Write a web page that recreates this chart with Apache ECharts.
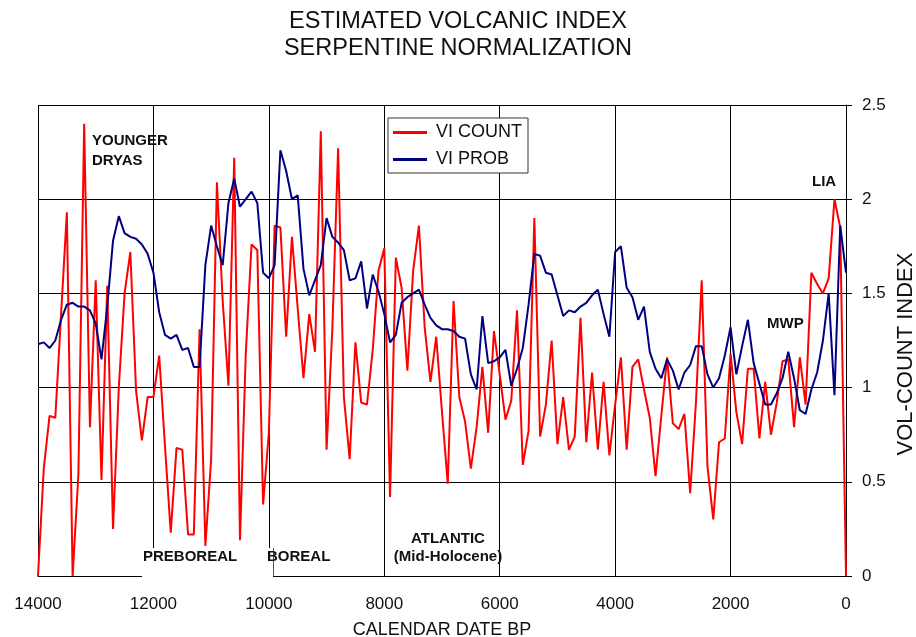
<!DOCTYPE html>
<html>
<head>
<meta charset="utf-8">
<script src="https://cdn.jsdelivr.net/npm/echarts@6/dist/echarts.min.js"></script>
<style>
html,body{margin:0;padding:0;background:#fff;}
#c{width:916px;height:637px;}
</style>
</head>
<body>
<div id="c"></div>
<script>
const years = [14000,13900,13800,13700,13600,13500,13400,13300,13200,13100,
13000,12900,12800,12700,12600,12500,12400,12300,12200,12100,
12000,11900,11800,11700,11600,11500,11400,11300,11200,11100,
11000,10900,10800,10700,10600,10500,10400,10300,10200,10100,
10000,9900,9800,9700,9600,9500,9400,9300,9200,9100,
9000,8900,8800,8700,8600,8500,8400,8300,8200,8100,
8000,7900,7800,7700,7600,7500,7400,7300,7200,7100,
7000,6900,6800,6700,6600,6500,6400,6300,6200,6100,
6000,5900,5800,5700,5600,5500,5400,5300,5200,5100,
5000,4900,4800,4700,4600,4500,4400,4300,4200,4100,
4000,3900,3800,3700,3600,3500,3400,3300,3200,3100,
3000,2900,2800,2700,2600,2500,2400,2300,2200,2100,
2000,1900,1800,1700,1600,1500,1400,1300,1200,1100,
1000,900,800,700,600,500,400,300,200,100,0];

const viCount = [0,0.57,0.85,0.84,1.39,1.93,0,0.54,2.40,0.79,
1.57,0.51,1.54,0.25,1.00,1.50,1.72,0.98,0.72,0.95,
0.95,1.17,0.69,0.23,0.68,0.67,0.22,0.22,1.31,0.16,
0.62,2.09,1.46,1.01,2.22,0.19,1.18,1.76,1.73,0.38,
0.76,1.86,1.85,1.27,1.80,1.42,1.05,1.39,1.19,2.36,
0.67,1.31,2.27,0.95,0.62,1.24,0.92,0.91,1.20,1.62,
1.74,0.42,1.69,1.53,1.09,1.62,1.86,1.32,1.03,1.27,
0.87,0.49,1.46,0.95,0.82,0.57,0.79,1.11,0.76,1.30,
1.07,0.83,0.93,1.41,0.59,0.77,1.90,0.74,0.91,1.25,
0.70,0.95,0.67,0.74,1.37,0.71,1.08,0.67,1.03,0.64,
0.91,1.16,0.67,1.11,1.15,0.99,0.84,0.53,0.85,1.16,
0.81,0.78,0.86,0.44,0.92,1.57,0.58,0.30,0.71,0.73,
1.18,0.87,0.70,1.10,1.10,0.73,1.03,0.75,0.92,1.14,
1.15,0.79,1.16,0.91,1.61,1.55,1.50,1.58,2.00,1.85,0];

const viProb = [1.23,1.24,1.21,1.25,1.36,1.44,1.45,1.43,1.43,1.41,
1.34,1.15,1.43,1.78,1.91,1.82,1.80,1.79,1.76,1.71,
1.61,1.40,1.28,1.26,1.28,1.20,1.21,1.11,1.11,1.65,
1.86,1.75,1.65,1.98,2.11,1.96,2.00,2.04,1.98,1.61,
1.58,1.65,2.26,2.15,2.00,2.02,1.63,1.49,1.57,1.65,
1.90,1.80,1.77,1.73,1.57,1.58,1.67,1.42,1.60,1.51,
1.39,1.24,1.28,1.45,1.48,1.50,1.52,1.44,1.37,1.33,
1.31,1.31,1.30,1.27,1.26,1.07,0.99,1.38,1.13,1.14,
1.16,1.20,1.01,1.10,1.21,1.44,1.71,1.70,1.61,1.60,
1.49,1.38,1.41,1.40,1.43,1.45,1.49,1.52,1.39,1.27,
1.72,1.75,1.53,1.48,1.36,1.43,1.19,1.10,1.05,1.15,
1.09,0.99,1.08,1.12,1.22,1.22,1.07,1.00,1.05,1.17,
1.32,1.07,1.22,1.36,1.13,1.02,0.91,0.91,0.97,1.05,
1.19,1.05,0.88,0.86,0.99,1.08,1.25,1.50,0.96,1.86,1.61];

const seriesNames = ['VI COUNT', 'VI PROB'];
const titleLines = ['ESTIMATED VOLCANIC INDEX', 'SERPENTINE NORMALIZATION'];
const xAxisName = 'CALENDAR DATE BP';
const yAxisName = 'VOL-COUNT INDEX';

const FONT = '"Liberation Sans", Arial, sans-serif';
const chart = echarts.init(document.getElementById('c'));

function pairs(vals){ return years.map((y,i)=>[y, vals[i]]); }

function label(text, x, y, align){
  return {
    type: 'text', x: x, y: y, z: 20,
    style: { text: text, fill: '#111', font: 'bold 15px ' + FONT, align: align || 'left', verticalAlign: 'middle' }
  };
}

chart.setOption({
  animation: false,
  backgroundColor: '#fff',
  title: {
    text: titleLines.join('\n'),
    left: 'center', top: 3,
    textStyle: { fontFamily: FONT, fontSize: 23.5, fontWeight: 'normal', color: '#111', lineHeight: 27 }
  },
  grid: { left: 38, right: 70, top: 105, bottom: 61, containLabel: false, outerBoundsMode: 'none' },
  legend: {
    data: seriesNames,
    orient: 'vertical',
    left: 388, top: 118,
    padding: [5, 6, 4, 5],
    itemGap: 8,
    itemWidth: 34, itemHeight: 3,
    icon: 'rect',
    backgroundColor: '#fff',
    borderColor: '#333', borderWidth: 1,
    textStyle: { fontFamily: FONT, fontSize: 18, color: '#111', lineHeight: 19, padding: [0,0,0,4] }
  },
  xAxis: {
    type: 'value', min: 0, max: 14000, interval: 2000, inverse: true,
    axisLine: { show: true, onZero: false, lineStyle: { color: '#000', width: 1 } },
    axisTick: { show: false },
    axisLabel: { fontFamily: FONT, fontSize: 17, color: '#111', margin: 20, formatter: v => String(v) },
    splitLine: { show: true, lineStyle: { color: '#000', width: 1 } },
    name: xAxisName, nameLocation: 'middle', nameGap: 45,
    nameTextStyle: { fontFamily: FONT, fontSize: 18, color: '#111' }
  },
  yAxis: {
    type: 'value', position: 'right', min: 0, max: 2.5, interval: 0.5,
    axisLine: { show: true, lineStyle: { color: '#000', width: 1 } },
    axisTick: { show: true, inside: false, length: 6, lineStyle: { color: '#000' } },
    axisLabel: { fontFamily: FONT, fontSize: 17, color: '#111', margin: 16 },
    splitLine: { show: true, lineStyle: { color: '#000', width: 1 } }
  },
  series: [
    { name: seriesNames[0], type: 'line', data: pairs(viCount), showSymbol: false, symbol: 'none', clip: false,
      lineStyle: { color: '#ff0000', width: 2 }, itemStyle: { color: '#ff0000' } },
    { name: seriesNames[1], type: 'line', data: pairs(viProb), showSymbol: false, symbol: 'none', clip: false,
      lineStyle: { color: '#000080', width: 2 }, itemStyle: { color: '#000080' } }
  ],
  graphic: [
    { type: 'rect', shape: { x: 142, y: 548, width: 131, height: 30 }, style: { fill: '#fff' }, z: 10 },
    { type: 'line', shape: { x1: 273.5, y1: 548, x2: 273.5, y2: 576 }, style: { stroke: '#555', lineWidth: 1 }, z: 11 },
    { type: 'text', x: 906, y: 354, rotation: Math.PI / 2, z: 20,
      style: { text: yAxisName, fill: '#111', font: '22px ' + FONT, align: 'center', verticalAlign: 'middle' } },
    label('YOUNGER', 92, 141),
    label('DRYAS', 92, 161),
    label('PREBOREAL', 143, 557),
    label('BOREAL', 267, 557),
    label('ATLANTIC', 448, 539, 'center'),
    label('(Mid-Holocene)', 448, 557, 'center'),
    label('LIA', 812, 182),
    label('MWP', 767, 324)
  ]
});
</script>
</body>
</html>
